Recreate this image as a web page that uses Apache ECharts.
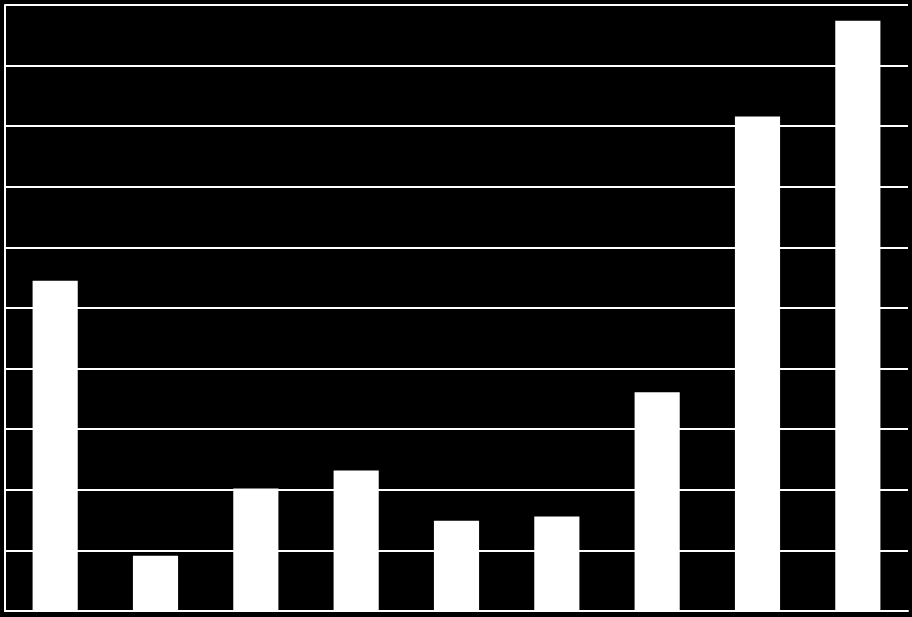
<!DOCTYPE html>
<html>
<head>
<meta charset="utf-8">
<style>
  html, body { margin: 0; padding: 0; background: #000; }
  #barCharts { width: 912px; height: 617px; }
</style>
<script src="https://cdn.jsdelivr.net/npm/echarts@6/dist/echarts.min.js"></script>
</head>
<body>
<div id="barCharts"></div>
<script>
// data (one gridline = 1 unit)
var categories = ['1', '2', '3', '4', '5', '6', '7', '8', '9'];
var values = [5.45, 0.91, 2.02, 2.32, 1.49, 1.56, 3.61, 8.16, 9.74];
var yMin = 0, yMax = 10, yStep = 1;

var myChart = echarts.init(document.getElementById('barCharts'));
var option = {
    backgroundColor: '#000',
    animation: false,
    grid: { left: 5, right: 4, top: 5, bottom: 6, containLabel: false },
    xAxis: {
        type: 'category',
        data: categories,
        axisLine: { show: true, lineStyle: { color: '#fff', width: 2 } },
        axisTick: { show: false },
        axisLabel: { show: false }
    },
    yAxis: {
        type: 'value',
        min: yMin,
        max: yMax,
        interval: yStep,
        axisLine: { show: true, lineStyle: { color: '#fff', width: 2 } },
        axisTick: { show: false },
        axisLabel: { show: false },
        splitLine: { show: true, lineStyle: { color: '#fff', width: 2 } }
    },
    series: [{
        type: 'bar',
        data: values,
        barWidth: '45%',
        itemStyle: { color: '#fff' }
    }]
};
myChart.setOption(option);
</script>
</body>
</html>
